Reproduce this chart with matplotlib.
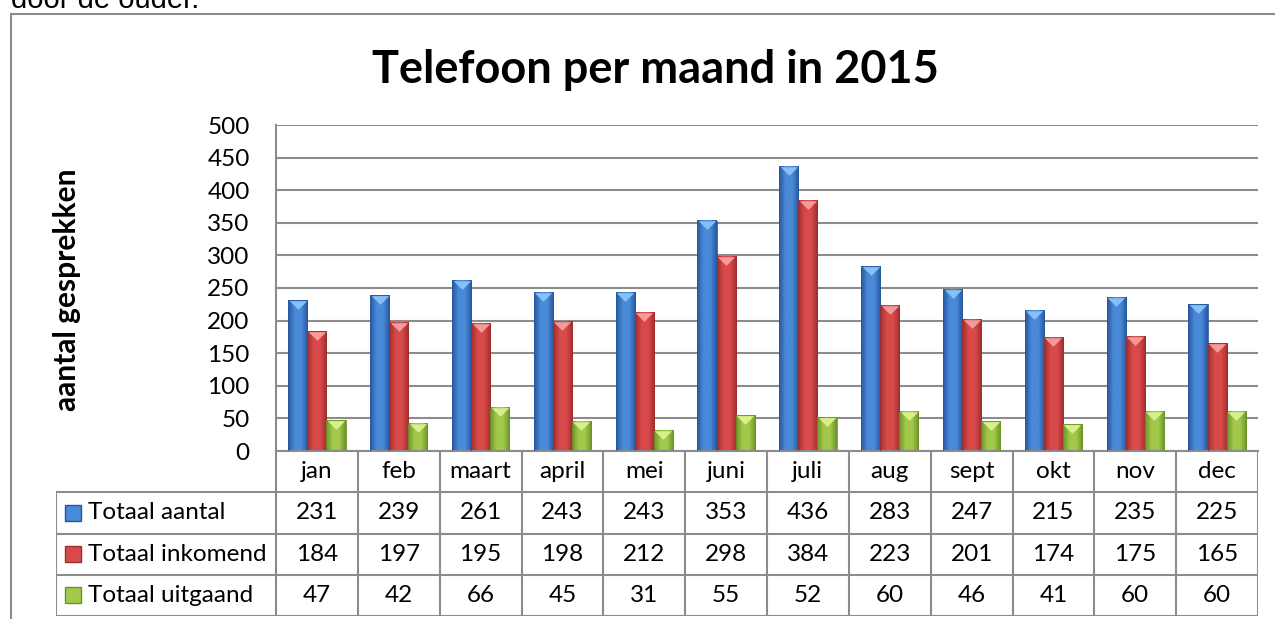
import numpy as np
import matplotlib
matplotlib.use("Agg")
import matplotlib.pyplot as plt
from matplotlib.colors import LinearSegmentedColormap
from matplotlib.transforms import offset_copy

plt.rcParams['font.family'] = ['Lato', 'DejaVu Sans']

# gegevens
maanden = ["jan", "feb", "maart", "april", "mei", "juni", "juli", "aug", "sept", "okt", "nov", "dec"]
totaal_aantal = [231, 239, 261, 243, 243, 353, 436, 283, 247, 215, 235, 225]
totaal_inkomend = [184, 197, 195, 198, 212, 298, 384, 223, 201, 174, 175, 165]
totaal_uitgaand = [47, 42, 66, 45, 31, 55, 52, 60, 46, 41, 60, 60]
reeks_namen = ["Totaal aantal", "Totaal inkomend", "Totaal uitgaand"]
y_ticks = [0, 50, 100, 150, 200, 250, 300, 350, 400, 450, 500]

# kleuren (donker, licht, top)
kleuren = [
    ("#27579f", "#4a8ad8", "#86c0f7"),
    ("#a02c2c", "#d94a4a", "#f49a9a"),
    ("#6a9428", "#a2c94a", "#d8f08c"),
]
GRIJS = "#8c8c8c"
FS = 17.5

W, H = 1275, 619
fig = plt.figure(figsize=(W / 100, H / 100), dpi=100)

# tekst boven de grafiek (afgesneden zoals in het origineel)
fig.text(11 / W, 1 - 8 / H, "door de ouder.", fontsize=21, family="Liberation Sans",
         ha="left", va="baseline")

# kader
fig.add_artist(plt.Line2D([11 / W, 11 / W], [0, 1 - 14 / H], color=GRIJS, lw=1.5))
fig.add_artist(plt.Line2D([11 / W, 1], [1 - 14 / H, 1 - 14 / H], color=GRIJS, lw=1.5))

fig.text(655 / W, 1 - 70 / H, "Telefoon per maand in 2015", fontsize=32.5,
         fontweight="bold", ha="center", va="center")

ax = fig.add_axes([276 / W, (H - 451) / H, (1258 - 276) / W, (451 - 125) / H])
x = np.arange(len(maanden))
bw = 0.233
reeksen = [totaal_aantal, totaal_inkomend, totaal_uitgaand]
# driehoek voor de afgeschuinde bovenkant
driehoek = [(-1, 0.5), (1, 0.5), (0, -0.5), (-1, 0.5)]
for i, (vals, (donker, licht, top)) in enumerate(zip(reeksen, kleuren)):
    pos = x + (i - 1) * bw
    bars = ax.bar(pos, vals, width=bw, facecolor="none", edgecolor=donker, lw=0.6, zorder=3)
    cmap = LinearSegmentedColormap.from_list("b%d" % i, [donker, licht, licht, donker])
    for r in bars:
        x0, w, h = r.get_x(), r.get_width(), r.get_height()
        ax.imshow(np.linspace(0, 1, 64)[None, :], cmap=cmap, extent=[x0, x0 + w, 0, h],
                  aspect="auto", interpolation="bicubic", zorder=2)
    trans = offset_copy(ax.transData, fig=fig, y=-4.5, units="dots")
    ax.plot(pos, vals, ls="none", marker=driehoek, ms=12.5, color=top, mec="none",
            transform=trans, zorder=4)

ax.set_xlim(-0.5, 11.5)
ax.set_ylim(0, 500)
ax.set_yticks(y_ticks)
ax.set_xticks([])
ax.tick_params(axis="y", length=0, labelsize=FS, pad=19)
ax.yaxis.grid(True, color=GRIJS, lw=1.5)
ax.set_axisbelow(True)
for s in ["top", "right"]:
    ax.spines[s].set_visible(False)
for s in ["left", "bottom"]:
    ax.spines[s].set_color(GRIJS)
    ax.spines[s].set_linewidth(1.5)

fig.text(67 / W, 1 - 290 / H, "aantal gesprekken", rotation=90, fontsize=21.5,
         fontweight="bold", ha="center", va="center")

# datatabel
tab = fig.add_axes([56 / W, (H - 616) / H, (1258 - 56) / W, (616 - 451) / H])
links = -0.5 - 220 / 81.83
tab.set_xlim(links, 11.5)
tab.set_ylim(4, 0)
tab.axis("off")
lk = dict(color=GRIJS, lw=1.5, solid_capstyle="projecting")
for k in range(13):
    tab.plot([k - 0.5, k - 0.5], [0, 4], **lk)
tab.plot([links, links], [1, 4], **lk)
for r in range(1, 5):
    tab.plot([links, 11.5], [r, r], **lk)
for j, m in enumerate(maanden):
    tab.text(j, 0.5, m, ha="center", va="center", fontsize=FS)
for r, (naam, vals, kl) in enumerate(zip(reeks_namen, reeksen, kleuren)):
    yy = r + 1.5
    tab.plot([links + 17 / 81.83], [yy], "s", ms=11.5, color=kl[1], mec=kl[0], mew=1)
    tab.text(links + 32 / 81.83, yy, naam, ha="left", va="center", fontsize=FS)
    for j, v in enumerate(vals):
        tab.text(j, yy, str(v), ha="center", va="center", fontsize=FS)

fig.savefig("out.png", dpi=100)
